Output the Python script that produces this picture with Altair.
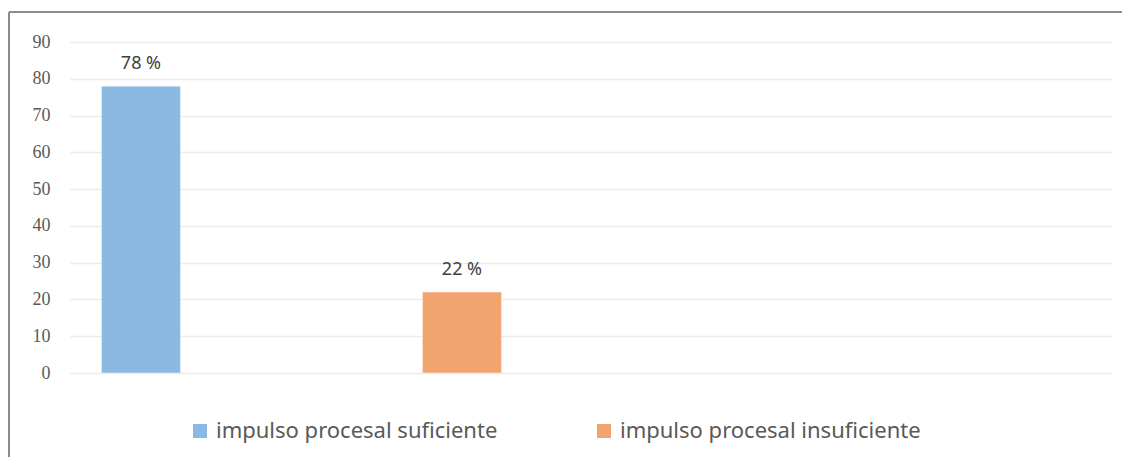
import altair as alt
import pandas as pd

categories = ["impulso procesal suficiente", "impulso procesal insuficiente"]
values = [78, 22]
labels = ["78 %", "22 %"]
colors = ["#8CB9E2", "#F2A46F"]
y_ticks = [0, 10, 20, 30, 40, 50, 60, 70, 80, 90]

df = pd.DataFrame({"cat": categories, "val": values, "lab": labels})

x_enc = alt.X(
    "cat:N",
    sort=categories,
    axis=None,
    scale=alt.Scale(paddingInner=0.7539, paddingOuter=1, align=0.049),
)
y_enc = alt.Y(
    "val:Q",
    scale=alt.Scale(domain=[0, 90], nice=False),
    axis=alt.Axis(
        values=y_ticks,
        title=None,
        domain=False,
        ticks=False,
        labelOverlap=False,
        labelFont="Liberation Serif",
        labelFontSize=18,
        labelColor="#595959",
        labelPadding=20,
        gridColor="#EBEBEB",
        gridWidth=1.5,
    ),
)

base = alt.Chart(df)

bars = base.mark_bar(stroke="#FFFFFF", strokeWidth=0.8, strokeOpacity=0.5).encode(
    x=x_enc,
    y=y_enc,
    color=alt.Color(
        "cat:N",
        sort=categories,
        scale=alt.Scale(domain=categories, range=colors),
        legend=alt.Legend(
            title=None,
            orient="none",
            direction="horizontal",
            legendX=119,
            legendY=378,
            symbolType="square",
            symbolSize=196,
            symbolStrokeWidth=0,
            symbolOpacity=1,
            labelFont="Noto Sans",
            labelFontSize=22,
            labelColor="#595959",
            labelLimit=500,
            labelOffset=5,
            columnPadding=95,
            padding=0,
        ),
    ),
)

text = base.mark_text(
    baseline="alphabetic",
    dy=-17,
    font="Noto Sans",
    fontSize=18,
    color="#404040",
).encode(x=x_enc, y=y_enc, text="lab:N")

frame_src = alt.Chart(alt.Data(values=[{}]))
frame_top = frame_src.mark_rule(color="#8C8C8C", strokeWidth=2).encode(
    x=alt.value(-61), x2=alt.value(1100), y=alt.value(-30)
)
frame_left = frame_src.mark_rule(color="#8C8C8C", strokeWidth=2).encode(
    x=alt.value(-61), y=alt.value(-30), y2=alt.value(600)
)

chart = (
    alt.layer(frame_top, frame_left, bars, text)
    .properties(
        width=1042,
        height=331,
        autosize=alt.AutoSizeParams(type="none"),
        padding={"left": 62, "top": 34, "right": 10, "bottom": 84},
    )
    .configure(background="white", view=alt.ViewConfig(stroke="transparent", strokeWidth=0))
)

chart.save("out.html", embed_options={"renderer": "svg", "actions": False})
